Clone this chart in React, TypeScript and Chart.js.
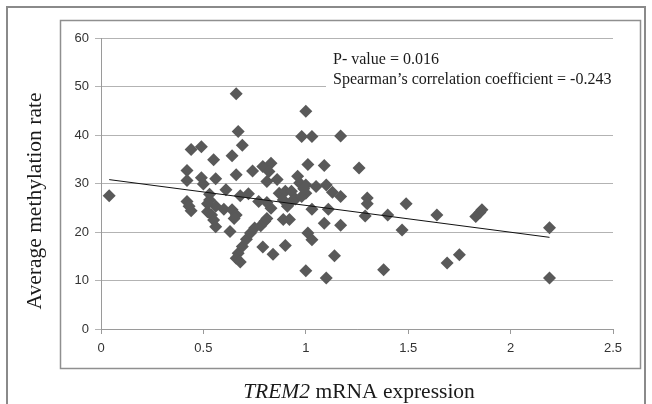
import React, { useEffect, useRef } from "react";
import { Chart, registerables } from "chart.js";

Chart.register(...registerables);

const xValues = [
  0.04, 0.42, 0.42, 0.44, 0.49, 0.49, 0.50, 0.42, 0.43, 0.44,
  0.55, 0.56, 0.53, 0.53, 0.52, 0.54, 0.55, 0.56, 0.61, 0.60,
  0.63, 0.64, 0.66, 0.66, 0.67, 0.69, 0.64, 0.66, 0.68, 0.72,
  0.74, 0.77, 0.79, 0.83, 0.82, 0.81, 0.86, 0.87, 0.90, 0.93,
  0.96, 0.97, 1.00, 1.00, 1.00, 0.98, 1.03, 1.17, 1.01, 1.09,
  1.26, 1.05, 1.10, 1.13, 1.17, 1.03, 1.11, 1.09, 1.17, 1.01,
  1.03, 1.00, 1.10, 1.14, 1.30, 1.30, 1.29, 1.40, 1.49, 1.47,
  1.38, 1.64, 1.69, 1.75, 1.83, 1.85, 1.86, 2.19, 2.19, 0.79,
  0.84, 0.90, 0.67, 0.66, 0.68, 0.69, 0.71, 0.73, 0.75, 0.78,
  0.80, 0.81, 0.89, 0.92, 0.91, 0.93, 0.95, 0.83, 0.81, 0.89,
  0.98, 0.99, 0.65, 0.56, 0.52,
];
const yValues = [
  27.5, 32.7, 30.6, 37.0, 37.6, 31.2, 29.9, 26.3, 25.3, 24.4,
  34.9, 31.0, 27.8, 26.6, 24.2, 23.5, 22.5, 21.1, 28.7, 24.7,
  20.1, 35.7, 31.8, 48.5, 40.7, 37.9, 24.6, 23.5, 27.5, 27.9,
  32.6, 26.3, 33.5, 34.2, 32.5, 30.4, 30.8, 28.0, 28.4, 28.4,
  31.5, 30.1, 29.7, 28.0, 44.9, 39.7, 39.7, 39.8, 33.9, 33.7,
  33.2, 29.4, 29.7, 28.2, 27.3, 24.7, 24.7, 21.8, 21.4, 19.8,
  18.4, 12.0, 10.5, 15.1, 27.0, 25.8, 23.3, 23.5, 25.8, 20.4,
  12.2, 23.5, 13.6, 15.3, 23.2, 24.0, 24.6, 20.9, 10.5, 16.9,
  15.4, 17.2, 15.6, 14.6, 13.8, 17.0, 18.5, 19.8, 20.8, 21.3,
  22.2, 22.8, 22.6, 22.6, 25.3, 26.3, 26.8, 24.9, 26.1, 26.6,
  27.3, 28.9, 22.8, 25.3, 25.8,
];
const trendX = [0.04, 2.19];
const trendY = [30.8, 18.9];
const xTicks = [0, 0.5, 1, 1.5, 2, 2.5];
const yTicks = [0, 10, 20, 30, 40, 50, 60];
const annotationLines = ["P- value = 0.016", "Spearman\u2019s correlation coefficient = -0.243"];
const yTitle = "Average methylation rate";
const xTitleItalic = "TREM2";
const xTitleRest = " mRNA expression";

const W = 652;
const H = 404;
const SERIF = "'Liberation Serif', 'Times New Roman', serif";

export default function App() {
  const ref = useRef<HTMLCanvasElement | null>(null);

  useEffect(() => {
    const canvas = ref.current;
    if (!canvas) return;

    const decor = {
      id: "decor",
      beforeDraw(chart: any) {
        const ctx = chart.ctx;
        ctx.save();
        ctx.fillStyle = "#ffffff";
        ctx.fillRect(0, 0, W, H);
        ctx.strokeStyle = "#8a8a8a";
        ctx.lineWidth = 2;
        ctx.beginPath();
        ctx.moveTo(7, H + 5);
        ctx.lineTo(7, 7);
        ctx.lineTo(645, 7);
        ctx.lineTo(645, H + 5);
        ctx.stroke();
        ctx.strokeStyle = "#8f8f8f";
        ctx.lineWidth = 1.5;
        ctx.strokeRect(60.5, 20.5, 580, 348);
        ctx.restore();
      },
      afterDraw(chart: any) {
        const ctx = chart.ctx;
        ctx.save();
        ctx.fillStyle = "#ffffff";
        ctx.fillRect(326, 47, 292, 46);
        ctx.fillStyle = "#1a1a1a";
        ctx.font = `16px ${SERIF}`;
        ctx.textBaseline = "middle";
        ctx.textAlign = "left";
        ctx.fillText(annotationLines[0], 333, 60);
        ctx.fillText(annotationLines[1], 333, 80);
        ctx.save();
        ctx.translate(35, 201);
        ctx.rotate(-Math.PI / 2);
        ctx.textAlign = "center";
        ctx.font = `21.5px ${SERIF}`;
        ctx.fillText(yTitle, 0, 0);
        ctx.restore();
        ctx.font = `italic 21.5px ${SERIF}`;
        const w1 = ctx.measureText(xTitleItalic).width;
        ctx.font = `21.5px ${SERIF}`;
        const w2 = ctx.measureText(xTitleRest).width;
        const start = 359 - (w1 + w2) / 2;
        ctx.textAlign = "left";
        ctx.font = `italic 21.5px ${SERIF}`;
        ctx.fillText(xTitleItalic, start, 392);
        ctx.font = `21.5px ${SERIF}`;
        ctx.fillText(xTitleRest, start + w1, 392);
        ctx.restore();
      },
    };

    const chart = new Chart(canvas, {
      type: "scatter",
      data: {
        datasets: [
          {
            type: "line",
            label: "trend",
            data: trendX.map((x, i) => ({ x, y: trendY[i] })),
            borderColor: "#111111",
            borderWidth: 1,
            pointRadius: 0,
            fill: false,
            order: 0,
          } as any,
          {
            label: "data",
            data: xValues.map((x, i) => ({ x, y: yValues[i] })),
            pointStyle: "rectRot",
            pointRadius: 6.5,
            pointBackgroundColor: "#595959",
            pointBorderColor: "#595959",
            pointBorderWidth: 0,
            order: 1,
          },
        ],
      },
      options: {
        responsive: false,
        animation: false,
        devicePixelRatio: 1,
        layout: { padding: { left: 0, top: 38, right: 39, bottom: 0 } },
        plugins: {
          legend: { display: false },
          tooltip: { enabled: false },
        },
        scales: {
          x: {
            type: "linear",
            min: 0,
            max: 2.5,
            afterFit: (s: any) => {
              s.height = 75;
            },
            afterBuildTicks: (s: any) => {
              s.ticks = xTicks.map((v) => ({ value: v }));
            },
            ticks: {
              color: "#333333",
              font: { family: "'Liberation Sans', Arial, sans-serif", size: 13 },
              padding: 7,
              maxRotation: 0,
              callback: (v: any) => String(v),
            },
            grid: {
              drawOnChartArea: false,
              drawTicks: true,
              tickLength: 5,
              color: "#9a9a9a",
            },
            border: { display: true, color: "#9a9a9a", width: 1 },
          },
          y: {
            type: "linear",
            min: 0,
            max: 60,
            afterFit: (s: any) => {
              s.width = 101;
            },
            afterBuildTicks: (s: any) => {
              s.ticks = yTicks.map((v) => ({ value: v }));
            },
            ticks: {
              color: "#333333",
              font: { family: "'Liberation Sans', Arial, sans-serif", size: 13 },
              padding: 6,
              callback: (v: any) => String(v),
            },
            grid: {
              drawOnChartArea: true,
              drawTicks: true,
              tickLength: 6,
              color: "#b3b3b3",
              lineWidth: 1,
            },
            border: { display: true, color: "#9a9a9a", width: 1 },
          },
        },
      },
      plugins: [decor],
    });

    return () => chart.destroy();
  }, []);

  return (
    <div style={{ position: "fixed", left: 0, top: 0, width: W, height: H, background: "#fff" }}>
      <canvas ref={ref} width={W} height={H} style={{ width: W, height: H, display: "block" }} />
    </div>
  );
}
